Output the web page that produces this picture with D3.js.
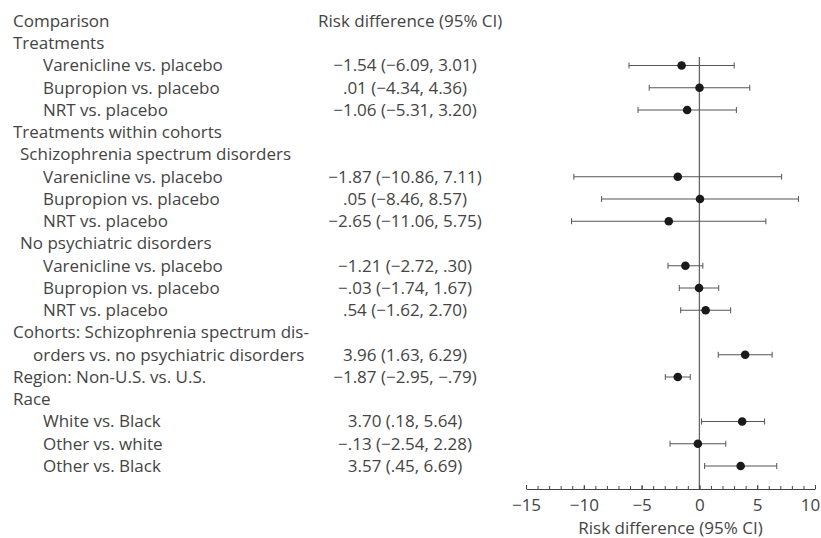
<!DOCTYPE html>
<html>
<head>
<meta charset="utf-8">
<script src="https://cdn.jsdelivr.net/npm/d3@7"></script>
<style>
body { margin: 0; background: #fff; }
text { font-family: "Open Sans", sans-serif; fill: #444; font-weight: 400; }
</style>
</head>
<body>
<svg id="forest" width="821" height="538"></svg>
<script>
// forest plot of risk differences

var labels = [
  "Comparison",
  "Treatments",
  "Varenicline vs. placebo",
  "Bupropion vs. placebo",
  "NRT vs. placebo",
  "Treatments within cohorts",
  "Schizophrenia spectrum disorders",
  "Varenicline vs. placebo",
  "Bupropion vs. placebo",
  "NRT vs. placebo",
  "No psychiatric disorders",
  "Varenicline vs. placebo",
  "Bupropion vs. placebo",
  "NRT vs. placebo",
  "Cohorts: Schizophrenia spectrum dis-",
  "orders vs. no psychiatric disorders",
  "Region: Non-U.S. vs. U.S.",
  "Race",
  "White vs. Black",
  "Other vs. white",
  "Other vs. Black"
];
// 0 = group, 1 = subgroup, 2 = comparison, 3 = wrapped line
var levels = [0, 0, 2, 2, 2, 0, 1, 2, 2, 2, 1, 2, 2, 2, 0, 3, 0, 0, 2, 2, 2];

var estimate = [null, null, -1.54, 0.01, -1.06, null, null, -1.87, 0.05, -2.65, null, -1.21, -0.03, 0.54, null, 3.96, -1.87, null, 3.70, -0.13, 3.57];
var lower = [null, null, -6.09, -4.34, -5.31, null, null, -10.86, -8.46, -11.06, null, -2.72, -1.74, -1.62, null, 1.63, -2.95, null, 0.18, -2.54, 0.45];
var upper = [null, null, 3.01, 4.36, 3.20, null, null, 7.11, 8.57, 5.75, null, 0.30, 1.67, 2.70, null, 6.29, -0.79, null, 5.64, 2.28, 6.69];
var ciText = [
  "", "",
  "\u22121.54 (\u22126.09, 3.01)",
  ".01 (\u22124.34, 4.36)",
  "\u22121.06 (\u22125.31, 3.20)",
  "", "",
  "\u22121.87 (\u221210.86, 7.11)",
  ".05 (\u22128.46, 8.57)",
  "\u22122.65 (\u221211.06, 5.75)",
  "",
  "\u22121.21 (\u22122.72, .30)",
  "\u2212.03 (\u22121.74, 1.67)",
  ".54 (\u22121.62, 2.70)",
  "",
  "3.96 (1.63, 6.29)",
  "\u22121.87 (\u22122.95, \u2212.79)",
  "",
  "3.70 (.18, 5.64)",
  "\u2212.13 (\u22122.54, 2.28)",
  "3.57 (.45, 6.69)"
];
var majorTicks = [-15, -10, -5, 0, 5, 10];
var minorTicks = d3.range(-15, 11, 1);

var svg = d3.select("#forest");
var fs = 17;

var x = d3.scaleLinear().domain([-15, 10]).range([526, 815]);
var y = d3.scaleLinear().domain([0, 20]).range([21, 466]);
var indentX = [13, 20, 43, 33];
var axisY = 489;

// left columns
svg.selectAll("text.label")
  .data(labels)
  .enter().append("text")
  .attr("class", "label")
  .attr("x", function (d, i) { return indentX[levels[i]]; })
  .attr("y", function (d, i) { return y(i); })
  .attr("dy", "0.35em")
  .attr("font-size", fs)
  .text(function (d) { return d; });

svg.append("text")
  .text("Risk difference (95% CI)")
  .attr("x", 318)
  .attr("y", y(0))
  .attr("dy", "0.35em")
  .attr("font-size", fs);

svg.selectAll("text.ci")
  .data(ciText)
  .enter().append("text")
  .attr("class", "ci")
  .attr("x", 405)
  .attr("y", function (d, i) { return y(i); })
  .attr("dy", "0.35em")
  .attr("text-anchor", "middle")
  .attr("font-size", fs)
  .text(function (d) { return d; });

// reference line at zero
svg.append("line")
  .style("stroke", "#666")
  .style("stroke-width", 1.3)
  .attr("x1", x(0)).attr("x2", x(0))
  .attr("y1", 57).attr("y2", axisY);

// axis
var minorAxis = d3.axisBottom(x).tickValues(minorTicks).tickSize(-3).tickFormat("");
var gMinor = svg.append("g").attr("transform", "translate(0," + axisY + ")").call(minorAxis);
gMinor.select(".domain").remove();
gMinor.selectAll("line").attr("stroke", "#444");

var axis = d3.axisBottom(x).tickValues(majorTicks).tickSizeInner(-4).tickSizeOuter(0).tickPadding(10);
var gAxis = svg.append("g").attr("transform", "translate(0," + axisY + ")").call(axis);
gAxis.select(".domain").attr("stroke", "#444");
gAxis.selectAll("line").attr("stroke", "#444");
gAxis.selectAll("text")
  .attr("font-size", fs)
  .attr("font-family", "\"Open Sans\", sans-serif")
  .attr("fill", "#444")
  .attr("dx", function (d) { return d === 10 ? -5 : 0; });

svg.append("text")
  .text("Risk difference (95% CI)")
  .attr("x", (x.range()[0] + x.range()[1]) / 2)
  .attr("y", 528)
  .attr("dy", "0.35em")
  .attr("text-anchor", "middle")
  .attr("font-size", fs);

// confidence intervals and estimates
var rows = d3.range(labels.length).filter(function (i) { return estimate[i] !== null; });

rows.forEach(function (i) {
  var cy = y(i);
  svg.append("line")
    .style("stroke", "#555")
    .attr("x1", x(lower[i])).attr("x2", x(upper[i]))
    .attr("y1", cy).attr("y2", cy);
  [lower[i], upper[i]].forEach(function (v) {
    svg.append("line")
      .style("stroke", "#555")
      .attr("x1", x(v)).attr("x2", x(v))
      .attr("y1", cy - 3).attr("y2", cy + 3);
  });
  svg.append("circle")
    .attr("cx", x(estimate[i]))
    .attr("cy", cy)
    .attr("r", 4.3)
    .style("fill", "#1a1a1a");
});
</script>
</body>
</html>
